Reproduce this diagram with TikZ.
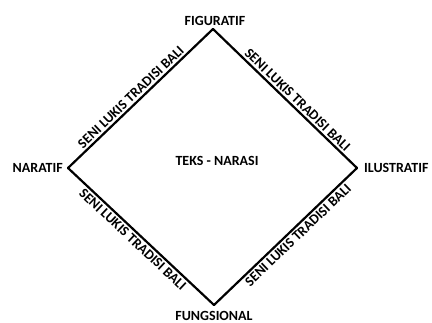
\documentclass[tikz,border=0pt]{standalone}
\usepackage{fontspec}
\setmainfont{Carlito}
\begin{document}
\begin{tikzpicture}[x=1pt,y=1pt,
  lbl/.style={font=\fontsize{14}{16}\selectfont\bfseries, inner sep=1pt},
  edgelbl/.style={font=\fontsize{14}{16}\selectfont\bfseries, sloped, inner sep=2pt},
  edgeline/.style={line width=2.2pt, line cap=round, line join=miter}]
\useasboundingbox (0,0) rectangle (432,322);
\coordinate (T) at (213,293);
\coordinate (L) at (68,154);
\coordinate (R) at (357,154);
\coordinate (B) at (214,17);
\node[lbl] (fig) at (215,301) {FIGURATIF};
\node[lbl, anchor=east] (nar) at (64,154) {NARATIF};
\node[lbl, anchor=west] (ilu) at (363,154) {ILUSTRATIF};
\node[lbl] (fun) at (214,6.5) {FUNGSIONAL};
\node[lbl] (teks) at (217,161) {TEKS - NARASI};
\draw[edgeline] (L) -- node[edgelbl, above, pos=0.47] (e1) {SENI LUKIS TRADISI BALI} (T);
\draw[edgeline] (T) -- node[edgelbl, above, pos=0.55] (e2) {SENI LUKIS TRADISI BALI} (R);
\draw[edgeline] (L) -- node[edgelbl, below, pos=0.48] (e3) {SENI LUKIS TRADISI BALI} (B);
\draw[edgeline] (B) -- node[edgelbl, below, pos=0.55] (e4) {SENI LUKIS TRADISI BALI} (R);
\end{tikzpicture}
\end{document}
